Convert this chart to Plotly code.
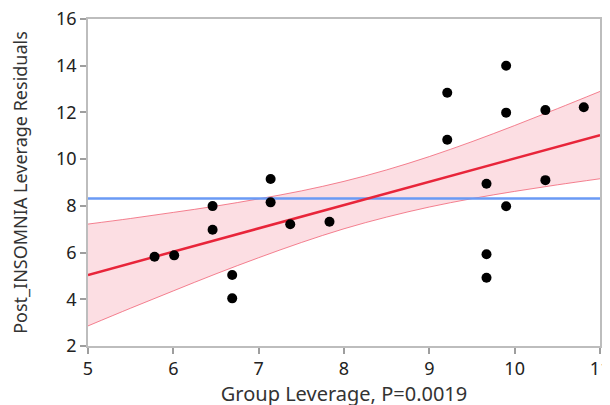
import plotly.graph_objects as go

# Data points (leverage x, leverage residual y)
pts_x = [5.78, 6.01, 6.46, 6.46, 6.69, 6.69, 7.14, 7.14, 7.37, 7.83,
         9.21, 9.21, 9.90, 9.90, 9.90, 9.67, 9.67, 9.67, 10.36, 10.36, 10.81]
pts_y = [5.82, 5.88, 7.99, 6.98, 5.04, 4.04, 9.15, 8.15, 7.21, 7.32,
         12.84, 10.83, 14.00, 11.99, 7.98, 8.95, 5.93, 4.92, 12.10, 9.10, 12.22]

# Fit line and confidence band
fit_x = [5, 11]
fit_y = [5.04, 11.03]
band_x = [5, 5.5, 6, 6.5, 7, 7.5, 8, 8.5, 9, 9.5, 10, 10.5, 11]
band_upper = [7.22, 7.46, 7.72, 7.99, 8.30, 8.64, 9.05, 9.54, 10.11, 10.75, 11.44, 12.16, 12.90]
band_lower = [2.86, 3.62, 4.36, 5.09, 5.78, 6.43, 7.02, 7.52, 7.95, 8.31, 8.62, 8.90, 9.16]
mean_y = 8.31

x_ticks = [5, 6, 7, 8, 9, 10, 11]
y_ticks = [2, 4, 6, 8, 10, 12, 14, 16]

band_line = dict(color="rgba(240,90,110,0.75)", width=1, shape="spline")

fig = go.Figure()
fig.add_trace(go.Scatter(x=band_x, y=band_lower, mode="lines", line=band_line,
                         hoverinfo="skip", showlegend=False))
fig.add_trace(go.Scatter(x=band_x, y=band_upper, mode="lines", line=band_line,
                         fill="tonexty", fillcolor="rgba(250,190,200,0.5)",
                         hoverinfo="skip", showlegend=False))
fig.add_trace(go.Scatter(x=fit_x, y=[mean_y, mean_y], mode="lines",
                         line=dict(color="#6a9af5", width=2.5), showlegend=False))
fig.add_trace(go.Scatter(x=fit_x, y=fit_y, mode="lines",
                         line=dict(color="#e8253a", width=2.5), showlegend=False))
fig.add_trace(go.Scatter(x=pts_x, y=pts_y, mode="markers",
                         marker=dict(color="black", size=10), showlegend=False))

axis_common = dict(showgrid=False, zeroline=False, showline=True, mirror=True,
                   linecolor="#bdbdbd", linewidth=1.5, ticks="outside",
                   ticklen=6, tickcolor="#9e9e9e", tickwidth=1.5, automargin=False,
                   ticklabeloverflow="allow",
                   tickfont=dict(family="Noto Sans", size=18, color="#222222"))

fig.update_layout(
    width=610, height=405,
    margin=dict(l=80, r=18, t=11, b=67),
    paper_bgcolor="white", plot_bgcolor="white",
    font=dict(family="Noto Sans", color="#333333"),
    xaxis=dict(range=[5, 11], tickvals=x_ticks,
               title=dict(text="Group Leverage, P=0.0019",
                          font=dict(family="Noto Sans", size=20, color="#333333"),
                          standoff=3),
               **axis_common),
    yaxis=dict(range=[2, 16], tickvals=y_ticks,
               title=dict(text="Post_INSOMNIA Leverage Residuals",
                          font=dict(family="Noto Sans", size=18, color="#333333"),
                          standoff=30),
               **axis_common),
)

fig.write_html("out.html")
